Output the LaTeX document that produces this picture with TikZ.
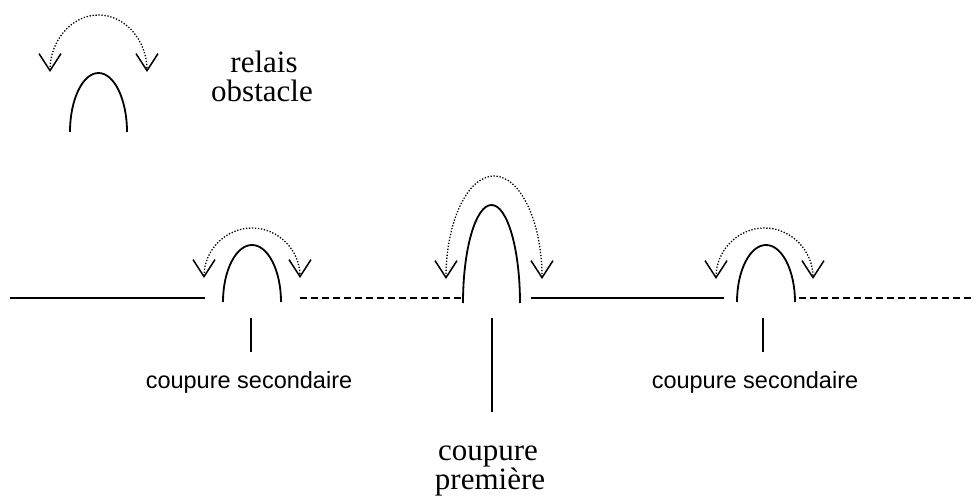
\documentclass[tikz,border=0pt]{standalone}
\usepackage{fontspec}
\setmainfont{Liberation Serif}
\newfontfamily\arialf{Liberation Sans}
\usetikzlibrary{arrows.meta}
\tikzset{
  arch/.style={line width=1.8pt},
  road/.style={line width=1.8pt},
  roaddash/.style={line width=1.8pt, dash pattern=on 6.5pt off 4.5pt},
  hop/.style={line width=1.3pt, dash pattern=on 1.3pt off 1.7pt,
    {Straight Barb[length=17pt,width=22pt,line width=1.5pt]}-{Straight Barb[length=17pt,width=22pt,line width=1.5pt]}},
  tick/.style={line width=1.6pt},
  serif/.style={font=\fontsize{31}{31}\selectfont, inner sep=0pt, anchor=base},
  sans/.style={font=\arialf\fontsize{23.5}{23.5}\selectfont, inner sep=0pt, anchor=base}
}
\begin{document}
\begin{tikzpicture}[x=1pt,y=1pt]
\useasboundingbox (0,0) rectangle (978,-503);
% legend
\coordinate (la) at (70,-132);
\coordinate (ha) at (50,-72);
\draw[arch] (la) arc[start angle=180,end angle=0,x radius=28.5pt,y radius=59pt];
\draw[hop] (ha) arc[start angle=180,end angle=0,x radius=48.5pt,y radius=57pt];
\node[serif] (relais) at (264,-73) {relais};
\node[serif] (obstacle) at (262,-102) {obstacle};
% road
\coordinate (r0) at (10,-298);
\coordinate (r1) at (205,-298);
\coordinate (r2) at (300,-298);
\coordinate (r3) at (462,-298);
\coordinate (r4) at (531,-298);
\coordinate (r5) at (724,-298);
\coordinate (r6) at (799,-298);
\coordinate (r7) at (975,-298);
\draw[road] (r0) -- (r1);
\draw[roaddash] (r2) -- (r3);
\draw[road] (r4) -- (r5);
\draw[roaddash] (r6) -- (r7);
% arches
\coordinate (a1) at (223,-302);
\coordinate (a2) at (463,-303);
\coordinate (a3) at (737,-302);
\draw[arch] (a1) arc[start angle=180,end angle=0,x radius=29pt,y radius=57pt];
\draw[arch] (a2) arc[start angle=180,end angle=0,x radius=28.5pt,y radius=98pt];
\draw[arch] (a3) arc[start angle=180,end angle=0,x radius=29pt,y radius=57pt];
% hops
\coordinate (h1) at (204,-278);
\coordinate (h2) at (446,-279);
\coordinate (h3) at (716,-279);
\draw[hop] (h1) arc[start angle=180,end angle=0,x radius=48pt,y radius=50pt];
\draw[hop] (h2) arc[start angle=180,end angle=0,x radius=48pt,y radius=103pt];
\draw[hop] (h3) arc[start angle=180,end angle=0,x radius=48.5pt,y radius=51pt];
% ticks
\coordinate (t1a) at (251,-318);
\coordinate (t1b) at (251,-352);
\coordinate (t2a) at (492,-318);
\coordinate (t2b) at (492,-412);
\coordinate (t3a) at (763,-318);
\coordinate (t3b) at (763,-352);
\draw[tick] (t1a) -- (t1b);
\draw[tick] (t2a) -- (t2b);
\draw[tick] (t3a) -- (t3b);
% labels
\node[sans] (cs1) at (249,-388) {coupure secondaire};
\node[sans] (cs2) at (755,-388) {coupure secondaire};
\node[serif] (cp1) at (488,-460) {coupure};
\node[serif] (cp2) at (490,-489) {première};
\end{tikzpicture}
\end{document}
